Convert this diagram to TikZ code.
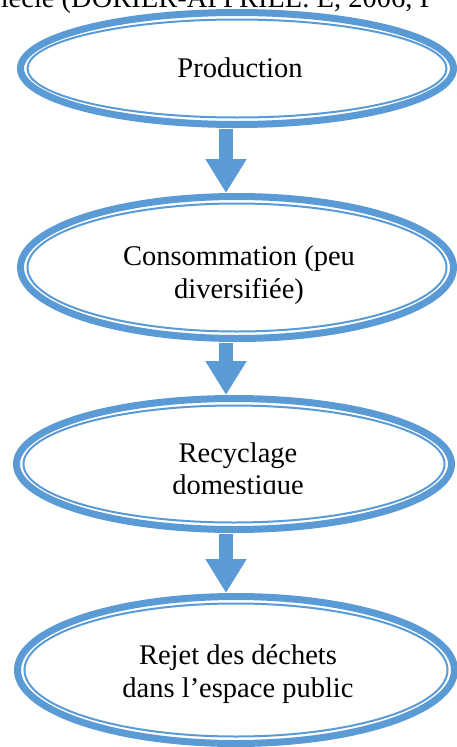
\documentclass[tikz,border=0pt]{standalone}
\usepackage{fontspec}
\setmainfont{Liberation Serif}
\usetikzlibrary{shapes.geometric,arrows.meta}
\definecolor{ovalblue}{HTML}{5B9BD5}
\begin{document}
\begin{tikzpicture}[x=1pt,y=-1pt,
  oval/.style={ellipse, draw=ovalblue, line width=7pt, inner sep=0pt},
  innerline/.style={draw=ovalblue, line width=2pt},
  lbl/.style={anchor=base, inner sep=0pt, font=\fontsize{28.5}{32}\selectfont},
  flow/.style={draw=ovalblue, line width=14pt, -{Triangle[width=39pt,length=34pt]}}]
\useasboundingbox (0,0) rectangle (457,747);
\clip (0,0) rectangle (457,747);
% caption fragment cut by the top edge
\node[lbl, anchor=base west] (cap) at (-10.5,7) {siècle (DORIER-APPRILL. E, 2006, P};
% ovals
\node[oval, minimum width=433pt, minimum height=112pt] (e1) at (237,68.5) {};
\draw[innerline] (e1.center) ellipse [x radius=209.5, y radius=49];
\node[oval, minimum width=433pt, minimum height=142pt] (e2) at (237,267.5) {};
\draw[innerline] (e2.center) ellipse [x radius=209.5, y radius=64];
\node[oval, minimum width=435pt, minimum height=131pt] (e3) at (234,464) {};
\draw[innerline] (e3.center) ellipse [x radius=210.5, y radius=58.5];
\node[oval, minimum width=437pt, minimum height=147pt] (e4) at (236,670) {};
\draw[innerline] (e4.center) ellipse [x radius=211.5, y radius=66.5];
% labels
\node[lbl] (t1) at (240,77) {Production};
\node[lbl] (t2a) at (239,265) {Consommation (peu};
\node[lbl] (t2b) at (239,298) {diversifiée)};
\node[lbl] (t3a) at (238,462) {Recyclage};
\begin{scope}
  \clip (0,0) rectangle (457,493);
  \node[lbl] (t3b) at (238,494) {domestique};
\end{scope}
\node[lbl] (t4a) at (238,664) {Rejet des déchets};
\node[lbl] (t4b) at (238,697) {dans l’espace public};
% arrows
\draw[flow] ([xshift=-11pt,yshift=-1pt]e1.south) -- ([xshift=-11pt]e2.north);
\draw[flow] ([xshift=-11pt,yshift=-1pt]e2.south) -- ([xshift=-8pt]e3.north);
\draw[flow] ([xshift=-8pt,yshift=-1pt]e3.south) -- ([xshift=-10pt]e4.north);
\end{tikzpicture}
\end{document}
